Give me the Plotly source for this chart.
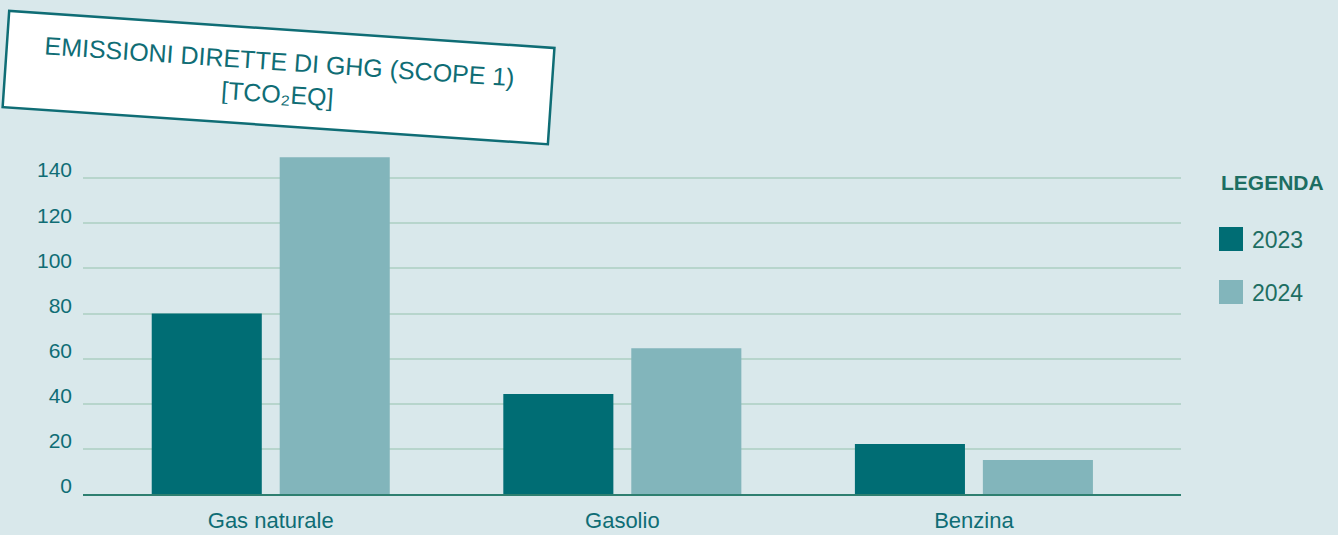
import plotly.graph_objects as go

categories = ["Gas naturale", "Gasolio", "Benzina"]
values_2023 = [80, 44.3, 22.2]
values_2024 = [149.3, 64.6, 15.1]
series_names = ["2023", "2024"]
y_ticks = [0, 20, 40, 60, 80, 100, 120, 140]

BG = "#d9e8eb"
DARK = "#006d74"
LIGHT = "#82b5bb"
TEXT = "#0f6d75"
GREEN = "#1d6e62"
FONT = "Liberation Sans"

fig = go.Figure()
fig.add_trace(go.Bar(x=categories, y=values_2023, name=series_names[0],
                     marker=dict(color=DARK, line=dict(width=0)), showlegend=False))
fig.add_trace(go.Bar(x=categories, y=values_2024, name=series_names[1],
                     marker=dict(color=LIGHT, line=dict(width=0)), showlegend=False))

fig.update_layout(
    width=1338, height=535,
    paper_bgcolor=BG, plot_bgcolor=BG,
    margin=dict(l=83, r=157, t=133, b=41),
    barmode="group", bargap=0.272, bargroupgap=0.14,
    font=dict(family=FONT, color=TEXT),
    xaxis=dict(type="category", range=[-0.534, 2.589], showgrid=False,
               showline=True, linecolor="#2e7f70", linewidth=1.5, automargin=False,
               ticks="", tickfont=dict(size=22, color=TEXT), ticklabelstandoff=6),
    yaxis=dict(range=[0, 160], tickvals=y_ticks, showgrid=True, automargin=False,
               gridcolor="#b7d5cc", gridwidth=1.5, zeroline=False,
               showline=False, ticks="", tickfont=dict(size=21, color=TEXT),
               ticklabelshift=-8, ticklabelstandoff=10),
)

# Rotated title box
fig.add_annotation(
    text="EMISSIONI DIRETTE DI GHG (SCOPE 1)<br>[TCO₂EQ]",
    xref="paper", yref="paper", x=(278 - 83) / 1098, y=(494 - 78) / 361,
    xanchor="center", yanchor="middle", showarrow=False,
    textangle=3.9, width=510, height=60, borderpad=17,
    bgcolor="white", bordercolor="#0f6d75", borderwidth=2.5,
    font=dict(family=FONT, size=25, color=TEXT),
)

# Custom legend
def px_x(p):
    return (p - 83) / 1098

def px_y(p):
    return (494 - p) / 361

fig.add_annotation(text="<b>LEGENDA</b>", xref="paper", yref="paper",
                   x=px_x(1219), y=px_y(182), xanchor="left", yanchor="middle",
                   showarrow=False, font=dict(family=FONT, size=21, color=GREEN))
for name, color, yc in [(series_names[0], DARK, 239), (series_names[1], LIGHT, 292)]:
    fig.add_shape(type="rect", xref="paper", yref="paper",
                  x0=px_x(1219), x1=px_x(1243), y0=px_y(yc - 12), y1=px_y(yc + 12),
                  fillcolor=color, line=dict(width=0))
    fig.add_annotation(text=name, xref="paper", yref="paper",
                       x=px_x(1250), y=px_y(yc + 1), xanchor="left", yanchor="middle",
                       showarrow=False, font=dict(family=FONT, size=23, color=GREEN))

fig.write_html("out.html", config={"displayModeBar": False},
               post_script="document.body.style.margin='0';document.body.style.overflow='hidden';")
